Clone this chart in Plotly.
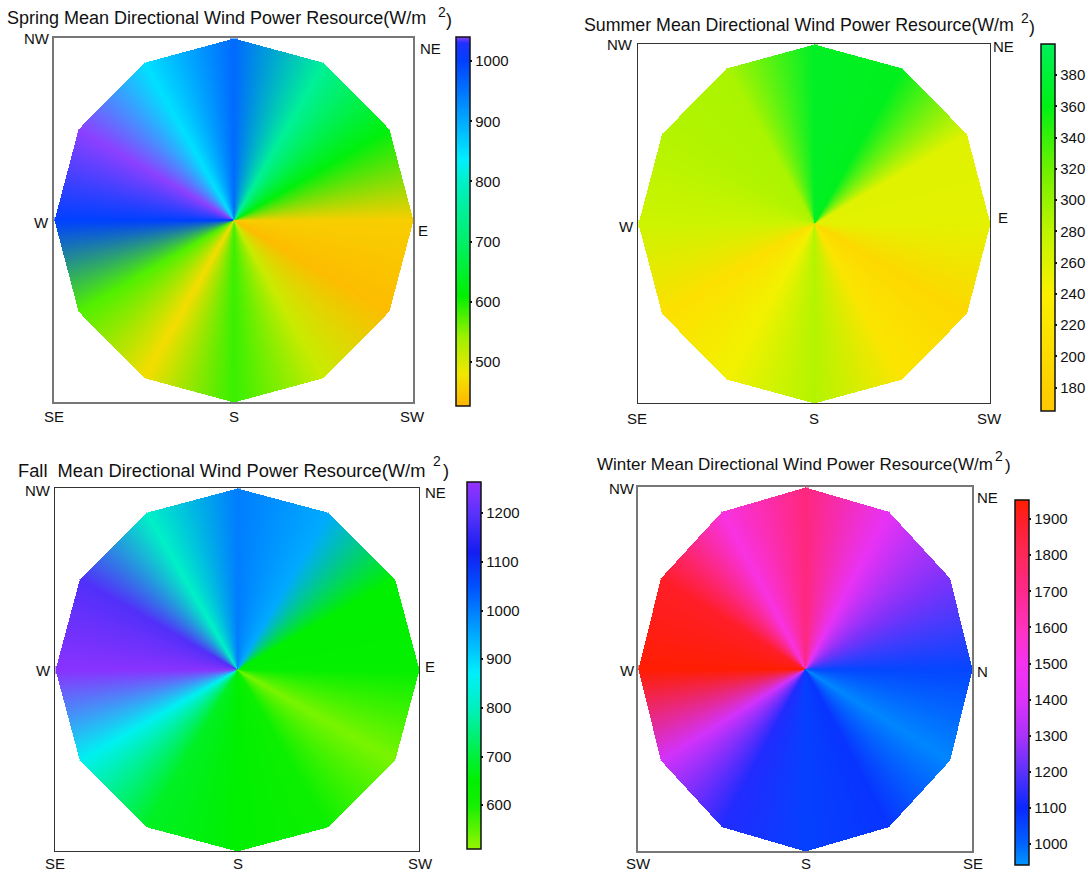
import numpy as np
import plotly.graph_objects as go

W, H = 1088, 876

# Values at the 12 rim vertices, counter-clockwise on screen from the right-hand vertex, every 30 degrees
angles = [0, 30, 60, 90, 120, 150, 180, 210, 240, 270, 300, 330]
spring_values = [455, 620, 750, 960, 850, 1040, 1000, 575, 470, 585, 510, 435]
summer_values = [255, 258, 365, 370, 290, 285, 270, 210, 245, 285, 220, 195]
fall_values = [640, 650, 950, 1000, 810, 1190, 1250, 860, 680, 650, 620, 530]
winter_values = [1050, 1240, 1450, 1730, 1530, 1900, 1950, 1380, 1130, 1060, 1080, 960]

spring_ticks = [500, 600, 700, 800, 900, 1000]
summer_ticks = [180, 200, 220, 240, 260, 280, 300, 320, 340, 360, 380]
fall_ticks = [600, 700, 800, 900, 1000, 1100, 1200]
winter_ticks = [1000, 1100, 1200, 1300, 1400, 1500, 1600, 1700, 1800, 1900]

spring_title = "Spring Mean Directional Wind Power Resource(W/m"
summer_title = "Summer Mean Directional Wind Power Resource(W/m"
fall_title = "Fall  Mean Directional Wind Power Resource(W/m"
winter_title = "Winter Mean Directional Wind Power Resource(W/m"

spring_colors = [(427, "#ffb400"), (480, "#f2e600"), (540, "#a0f000"), (610, "#00f000"), (700, "#00f068"),
                 (800, "#00f0c8"), (835, "#00f0ff"), (900, "#00aaff"), (1000, "#0040ff"), (1030, "#2030ff"), (1040, "#8c40ff")]
summer_colors = [(165, "#ffc800"), (240, "#faf000"), (280, "#bef500"), (320, "#6ef000"), (360, "#00f014"), (400, "#00f05a")]
fall_colors = [(510, "#96f500"), (600, "#14f000"), (650, "#00f000"), (700, "#00f03c"), (800, "#00f0be"), (870, "#00f0fa"), (950, "#00aaff"),
               (1050, "#0050ff"), (1120, "#141ef0"), (1200, "#5a32fa"), (1264, "#9632ff")]
winter_colors = [(942, "#0096ff"), (1000, "#0064ff"), (1100, "#0a28ff"), (1200, "#5a32fa"), (1300, "#aa32fa"),
                 (1400, "#dc32fa"), (1500, "#f532f0"), (1600, "#ff32be"), (1700, "#ff288c"), (1800, "#ff285a"),
                 (1900, "#ff1e28"), (1953, "#ff1e00")]

FONT = "Liberation Sans, Arial, sans-serif"
TEXT = "#111111"

# pixel layout of each panel
panels = [
    dict(values=spring_values, colors=spring_colors, ticks=spring_ticks, title=spring_title, title_size=18,
         box=(54, 413, 38, 402), bar=(456, 37, 406), vmin=427, vmax=1040, frame="#777777", fw=1.5,
         title_at=(5, 18), sup=(442, 12), par=(449, 20),
         labels=[("NW", 37, 38), ("NE", 430, 48), ("E", 423, 230), ("W", 41, 222), ("SE", 54, 416), ("S", 234, 416), ("SW", 412, 416)]),
    dict(values=summer_values, colors=summer_colors, ticks=summer_ticks, title=summer_title, title_size=17.8,
         box=(638, 990, 44, 403), bar=(1041, 44, 411), vmin=165, vmax=400, frame="#333333", fw=1,
         title_at=(582, 25), sup=(1025, 18), par=(1032, 27),
         labels=[("NW", 620, 45), ("NE", 1003, 47), ("E", 1003, 217), ("W", 626, 226), ("SE", 637, 418), ("S", 814, 418), ("SW", 989, 418)]),
    dict(values=fall_values, colors=fall_colors, ticks=fall_ticks, title=fall_title, title_size=18.3,
         box=(55, 419, 488, 851), bar=(467, 482, 849), vmin=510, vmax=1264, frame="#333333", fw=1,
         title_at=(16, 470), sup=(437, 461), par=(446, 470),
         labels=[("NW", 38, 490), ("NE", 435, 493), ("E", 430, 666), ("W", 43, 670), ("SE", 55, 863), ("S", 238, 863), ("SW", 420, 863)]),
    dict(values=winter_values, colors=winter_colors, ticks=winter_ticks, title=winter_title, title_size=17,
         box=(638, 972, 487, 851), bar=(1015, 500, 865), vmin=942, vmax=1953, frame="#777777", fw=1.5,
         title_at=(595, 464), sup=(999, 456), par=(1008, 465),
         labels=[("NW", 622, 488), ("NE", 987, 497), ("N", 982, 671), ("W", 627, 670), ("SW", 638, 863), ("S", 806, 863), ("SE", 973, 863)]),
]

ring_angles = np.array(angles + [360], dtype=float)
fig = go.Figure()
annotations = []


def px(x):
    return x / W


def py(y):
    return 1 - y / H


def add_text(text, x, y, size, anchor="center"):
    annotations.append(dict(text=text, x=px(x), y=py(y), xref="paper", yref="paper", showarrow=False,
                            xanchor=anchor, yanchor="middle", font=dict(family=FONT, size=size, color=TEXT)))


def scale_color(stops, v):
    xs = [s[0] for s in stops]
    rgb = [[int(s[1][k:k + 2], 16) for k in (1, 3, 5)] for s in stops]
    out = [int(round(float(np.interp(v, xs, [c[j] for c in rgb])))) for j in range(3)]
    return "rgb(%d,%d,%d)" % tuple(out)


for i, p in enumerate(panels):
    left, right, top, bottom = p["box"]
    nx, ny = right - left + 1, bottom - top + 1
    x = np.linspace(-1, 1, nx)
    y = np.linspace(-1, 1, ny)
    gx, gy = np.meshgrid(x, y)
    theta = np.degrees(np.arctan2(gy, gx)) % 360
    radius = np.hypot(gx, gy)
    ring_values = p["values"] + p["values"][:1]
    z = np.interp(theta, ring_angles, ring_values)
    inside = radius * np.cos(np.radians((theta % 30) - 15)) <= np.cos(np.radians(15))
    z = np.where(inside, z, np.nan).astype("float32")

    span = p["vmax"] - p["vmin"]
    scale = [[(v - p["vmin"]) / span, c] for v, c in p["colors"]]
    bx, btop, bbot = p["bar"]
    n = "" if i == 0 else str(i + 1)
    # full panel: carries the shared colour scale and the colour bar
    fig.add_trace(go.Heatmap(
        x=x, y=y, z=z, xaxis="x" + n, yaxis="y" + n, colorscale=scale, zmin=p["vmin"], zmax=p["vmax"],
        hoverongaps=False, hoverinfo="skip",
        colorbar=dict(x=px(bx), xanchor="left", xpad=0, y=py(btop), yanchor="top", ypad=0,
                      len=(bbot - btop) / H, lenmode="fraction", thickness=14, thicknessmode="pixels",
                      outlinecolor="#111111", outlinewidth=1.5, tickmode="array", tickvals=p["ticks"],
                      ticks="outside", ticklen=2, tickwidth=1.5, tickcolor="#111111",
                      tickfont=dict(family=FONT, size=15, color=TEXT)),
    ))
    # each wedge blends straight between the colours of its two rim values, as the original's shading does
    for k in range(12):
        a, b = ring_values[k], ring_values[k + 1]
        ca, cb = scale_color(p["colors"], a), scale_color(p["colors"], b)
        lo, hi = min(a, b), max(a, b)
        clo, chi = (ca, cb) if a <= b else (cb, ca)
        mask = inside & (theta >= ring_angles[k]) & (theta < ring_angles[k + 1])
        rows = np.where(mask.any(axis=1))[0]
        cols = np.where(mask.any(axis=0))[0]
        r0, r1, c0, c1 = rows[0], rows[-1] + 1, cols[0], cols[-1] + 1
        wedge = np.where(mask, z, np.nan)[r0:r1, c0:c1].astype("float32")
        fig.add_trace(go.Heatmap(
            x=x[c0:c1], y=y[r0:r1], z=wedge, xaxis="x" + n, yaxis="y" + n,
            colorscale=[[0, clo], [1, chi]], zmin=lo, zmax=hi, showscale=False,
            hoverongaps=False, hoverinfo="skip",
        ))
    common = dict(showgrid=False, zeroline=False, showline=True, mirror=True, linewidth=p["fw"], linecolor=p["frame"],
                  tickmode="array", tickvals=[-1, 1], ticks="inside", ticklen=3, tickcolor=p["frame"],
                  showticklabels=False, range=[-1, 1], fixedrange=True)
    fig.update_layout({
        "xaxis" + n: dict(domain=[px(left), px(right)], anchor="y" + n, **common),
        "yaxis" + n: dict(domain=[py(bottom), py(top)], anchor="x" + n, **common),
    })
    add_text(p["title"], p["title_at"][0], p["title_at"][1], p["title_size"], anchor="left")
    add_text("2", p["sup"][0], p["sup"][1], 14)
    add_text(")", p["par"][0], p["par"][1], p["title_size"])
    for lab, lx, ly in p["labels"]:
        add_text(lab, lx, ly, 15)

fig.update_layout(width=W, height=H, margin=dict(l=0, r=0, t=0, b=0), paper_bgcolor="white", plot_bgcolor="white",
                  annotations=annotations, showlegend=False)
fig.write_html("out.html", post_script="document.body.style.margin='0';", config={"displayModeBar": False})
